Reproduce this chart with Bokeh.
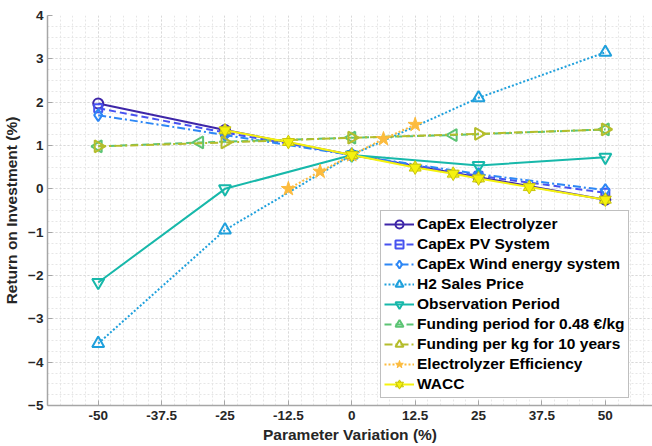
import numpy as np
from bokeh.plotting import figure
from bokeh.models import FixedTicker, Legend, LegendItem, Range1d
from bokeh.embed import file_html
from bokeh.resources import INLINE

# ---- data ----
x5 = [-50, -25, 0, 25, 50]
capex_el = [1.97, 1.36, 0.78, 0.27, -0.25]
capex_pv = [1.86, 1.30, 0.78, 0.30, -0.09]
capex_wind = [1.70, 1.24, 0.78, 0.34, -0.03]
h2_price = [-3.57, -0.95, 0.78, 2.10, 3.15]
obs_period = [-2.16, 0.0, 0.78, 0.54, 0.73]
fund_period_x = [-50, -30, 0, 20, 50]
fund_period = [0.98, 1.07, 1.18, 1.24, 1.37]
fund_kg = [0.98, 1.07, 1.18, 1.27, 1.37]
eff_x = [-12.5, -6.25, 0, 6.25, 12.5]
eff = [0.0, 0.40, 0.78, 1.15, 1.48]
wacc_x = [-25, -12.5, 0, 12.5, 20, 25, 35, 50]
wacc = [1.35, 1.08, 0.78, 0.49, 0.35, 0.24, 0.04, -0.25]

x_ticks = [-50, -37.5, -25, -12.5, 0, 12.5, 25, 37.5, 50]
x_tick_labels = ["-50", "-37.5", "-25", "-12.5", "0", "12.5", "25", "37.5", "50"]
y_ticks = [-5, -4, -3, -2, -1, 0, 1, 2, 3, 4]

FONT = "Liberation Sans"
TXT = "#262626"
AX = "#a6a6a6"

p = figure(width=652, height=446, x_range=Range1d(-60, 59.3), y_range=Range1d(-5, 4),
           output_backend="svg", toolbar_location=None,
           min_border_left=46, min_border_right=0, min_border_top=15, min_border_bottom=41)
p.outline_line_color = None
p.background_fill_color = "white"

p.xaxis.ticker = FixedTicker(ticks=x_ticks, minor_ticks=list(np.arange(-60, 60.01, 2.5)))
p.xaxis.major_label_overrides = {t: l for t, l in zip(x_ticks, x_tick_labels)}
p.yaxis.ticker = FixedTicker(ticks=y_ticks, minor_ticks=list(np.arange(-5, 4.01, 0.25)))

for ax in (p.xaxis[0], p.yaxis[0]):
    ax.axis_line_color = AX
    ax.axis_line_width = 1.5
    ax.major_tick_line_color = AX
    ax.major_tick_in = 5
    ax.major_tick_out = 0
    ax.minor_tick_in = 0
    ax.minor_tick_out = 0
    ax.major_label_text_font = FONT
    ax.major_label_text_font_style = "bold"
    ax.major_label_text_font_size = "13.5px"
    ax.major_label_text_color = TXT
    ax.axis_label_text_font = FONT
    ax.axis_label_text_font_style = "bold"
    ax.axis_label_text_font_size = "15.5px"
    ax.axis_label_text_color = TXT

p.xaxis.axis_label = "Parameter Variation (%)"
p.yaxis.axis_label = "Return on Investment (%)"
p.xaxis.major_label_standoff = 5
p.xaxis.axis_label_standoff = 3
p.yaxis.major_label_standoff = 4
p.yaxis.axis_label_standoff = 5

for g in (p.xgrid[0], p.ygrid[0]):
    g.grid_line_color = "#d9d9d9"
    g.grid_line_dash = "2 2"
    g.grid_line_width = 1
    g.minor_grid_line_color = "#e6e6e6"
    g.minor_grid_line_dash = "2 2"
    g.minor_grid_line_width = 1

C = ["#3e26a8", "#4752f0", "#2d87f5", "#1fa0dc", "#17b8aa", "#5cc474", "#b5bd2c", "#fcbb3d", "#f5f20e"]
LW = 2
items = []

def add(xs, ys, label, color, dash, markers):
    rs = [p.line(xs, ys, line_color=color, line_width=LW, line_dash=dash)]
    for m in markers:
        rs.append(p.scatter(xs, ys, **m))
    items.append(LegendItem(label=label, renderers=rs))

add(x5, capex_el, "CapEx Electrolyzer", C[0], "solid",
    [dict(marker="circle", size=10, line_color=C[0], line_width=2, fill_alpha=0)])
add(x5, capex_pv, "CapEx PV System", C[1], "7 4",
    [dict(marker="square", size=8, line_color=C[1], line_width=2, fill_alpha=0)])
add(x5, capex_wind, "CapEx Wind energy system", C[2], "8 3 2 3",
    [dict(marker="diamond", size=12, line_color=C[2], line_width=2, fill_alpha=0)])
add(x5, h2_price, "H2 Sales Price", C[3], "2 2",
    [dict(marker="triangle", size=12, line_color=C[3], line_width=2, fill_alpha=0)])
add(x5, obs_period, "Observation Period", C[4], "solid",
    [dict(marker="inverted_triangle", size=12, line_color=C[4], line_width=2, fill_alpha=0)])
add(fund_period_x, fund_period, "Funding period for 0.48 \u20ac/kg", C[5], "7 4",
    [dict(marker="triangle", angle=np.pi / 2, size=12, line_color=C[5], line_width=2, fill_alpha=0)])
add(x5, fund_kg, "Funding per kg for 10 years", C[6], "8 3 2 3",
    [dict(marker="triangle", angle=-np.pi / 2, size=12, line_color=C[6], line_width=2, fill_alpha=0)])
add(eff_x, eff, "Electrolyzer Efficiency", C[7], "2 2",
    [dict(marker="star", size=15, line_color=C[7], line_width=1, fill_color=C[7])])
add(wacc_x, wacc, "WACC", C[8], "solid",
    [dict(marker="triangle", size=12, line_color="#c9c60a", line_width=1, fill_color=C[8]),
     dict(marker="inverted_triangle", size=12, line_color="#c9c60a", line_width=1, fill_color=C[8])])

legend = Legend(items=items, location=(333, 7))
legend.label_text_font = FONT
legend.label_text_font_style = "bold"
legend.label_text_font_size = "15.5px"
legend.label_text_color = "black"
legend.glyph_width = 30
legend.glyph_height = 20
legend.label_height = 20
legend.label_standoff = 3
legend.spacing = 0
legend.padding = 3
legend.margin = 0
legend.border_line_color = "#7f7f7f"
legend.border_line_width = 1
legend.background_fill_color = "white"
legend.background_fill_alpha = 1
p.add_layout(legend)

open("out.html", "w").write(file_html(p, INLINE))
